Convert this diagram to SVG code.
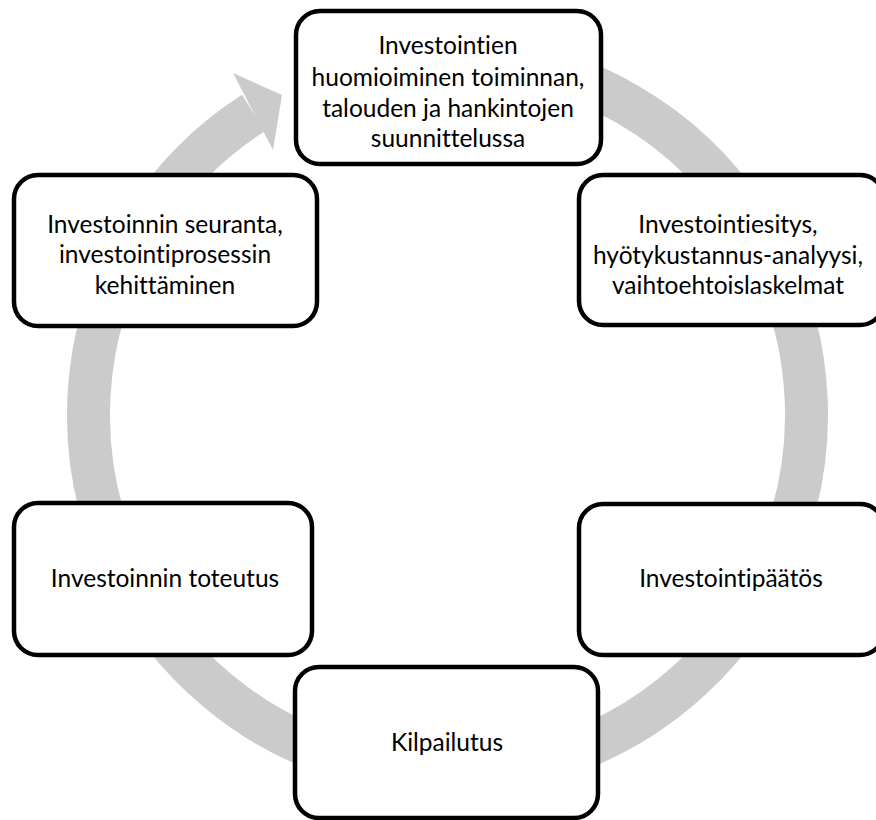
<svg xmlns="http://www.w3.org/2000/svg" width="876" height="820" viewBox="0 0 876 820">
  <style>
    .ring { fill: none; stroke: #cbcbcb; stroke-width: 43; stroke-linecap: butt; }
    .head { fill: #cbcbcb; stroke: none; }
    .box { fill: #ffffff; stroke: #000000; stroke-width: 4.5; }
    .lbl { font-family: Lato, "Liberation Sans", sans-serif; font-size: 24.5px; fill: #000000; text-anchor: middle; font-variant-ligatures: none; }
  </style>
  <rect x="0" y="0" width="876" height="820" fill="#ffffff"/>
  <g id="connectors">
    <path class="ring" d="M478.79,57.37 A359,359 0 1 1 253.57,112.9"/>
    <polygon class="head" points="233,73 282,95 273,150"/>
  </g>
  <g id="node-suunnittelu">
    <rect class="box" x="296" y="11" width="305" height="153" rx="24" ry="24"/>
    <text class="lbl" x="448" y="54">Investointien</text>
    <text class="lbl" x="448" y="86">huomioiminen toiminnan,</text>
    <text class="lbl" x="448" y="117">talouden ja hankintojen</text>
    <text class="lbl" x="448" y="147">suunnittelussa</text>
  </g>
  <g id="node-esitys">
    <rect class="box" x="579" y="175" width="305" height="150" rx="24" ry="24"/>
    <text class="lbl" x="728" y="233">Investointiesitys,</text>
    <text class="lbl" x="728" y="264">hyötykustannus-analyysi,</text>
    <text class="lbl" x="728" y="294">vaihtoehtoislaskelmat</text>
  </g>
  <g id="node-paatos">
    <rect class="box" x="579" y="504" width="305" height="151" rx="24" ry="24"/>
    <text class="lbl" x="731" y="587">Investointipäätös</text>
  </g>
  <g id="node-kilpailutus">
    <rect class="box" x="295" y="667" width="303" height="151" rx="24" ry="24"/>
    <text class="lbl" x="447" y="751">Kilpailutus</text>
  </g>
  <g id="node-toteutus">
    <rect class="box" x="14" y="503" width="298" height="152" rx="24" ry="24"/>
    <text class="lbl" x="165" y="587">Investoinnin toteutus</text>
  </g>
  <g id="node-seuranta">
    <rect class="box" x="14" y="175" width="303" height="151" rx="24" ry="24"/>
    <text class="lbl" x="165" y="233">Investoinnin seuranta,</text>
    <text class="lbl" x="165" y="263">investointiprosessin</text>
    <text class="lbl" x="165" y="294">kehittäminen</text>
  </g>
</svg>
